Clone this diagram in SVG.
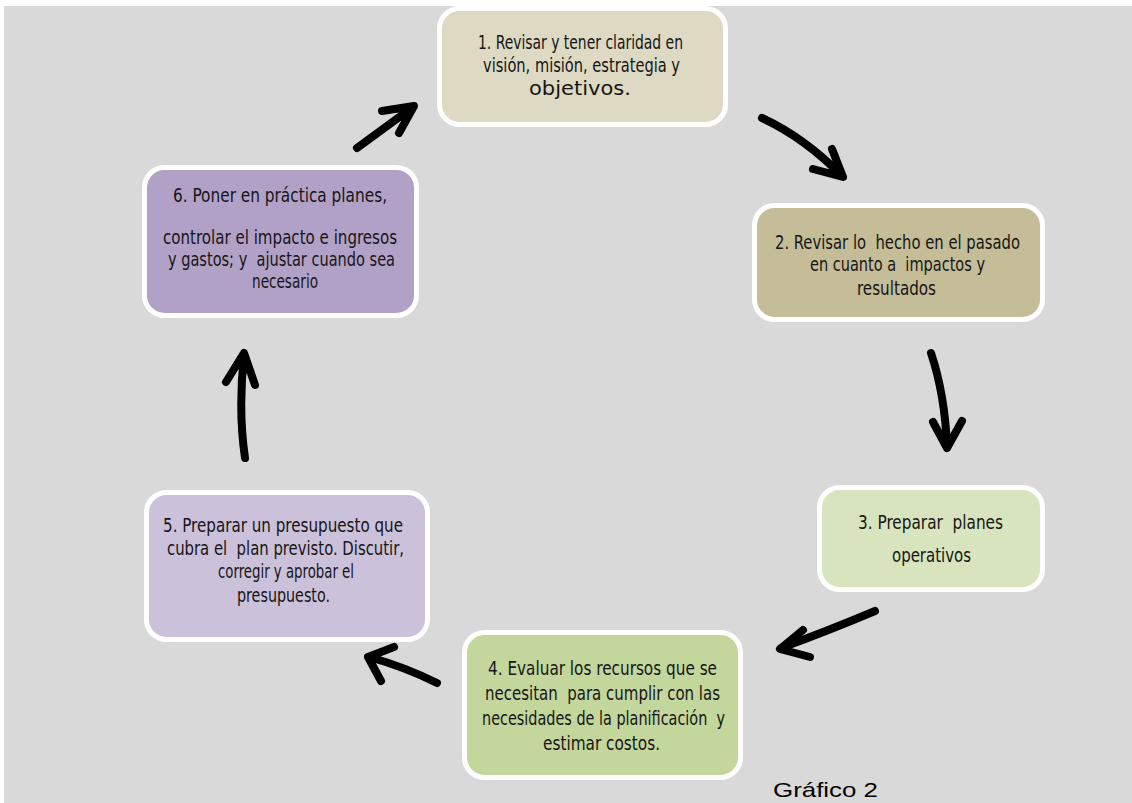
<svg xmlns="http://www.w3.org/2000/svg" width="1132" height="803" viewBox="0 0 1132 803">
<style>
.box{stroke:#ffffff;stroke-width:5}
.t{font-family:"DejaVu Sans Condensed","DejaVu Sans",sans-serif;font-size:20px;fill:#161616}
.arr{fill:none;stroke:#000000;stroke-width:8;stroke-linecap:round;stroke-linejoin:round}
.cap{font-family:"Liberation Sans",Arial,sans-serif;font-size:21px;fill:#000000}
</style>
<rect x="0" y="0" width="1132" height="803" fill="#ffffff"/>
<rect x="4" y="6" width="1128" height="797" fill="#d9d9d9"/>
<g id="connectors">
<path class="arr" d="M357,148 L413,107 M382,111 L414,106 L399,133"/>
<path class="arr" d="M762,118 Q805,138 842,176 M832,149 L843,177 L813,169"/>
<path class="arr" d="M931,353 Q945,395 947,447 M933,422 L947,448 L962,421"/>
<path class="arr" d="M875,611 Q830,630 781,648 M803,630 L780,649 L810,657"/>
<path class="arr" d="M437,683 Q405,667 369,657 M394,647 L368,657 L381,681"/>
<path class="arr" d="M245,458 Q238,410 244,355 M226,382 L244,353 L255,385"/>
</g>
<g id="node1">
<rect class="box" x="439.5" y="8.5" width="286" height="116" rx="20" fill="#ddd9c3"/>
<text class="t" x="478" y="49" textLength="205" lengthAdjust="spacingAndGlyphs">1. Revisar y tener claridad en</text>
<text class="t" x="483" y="72" textLength="197" lengthAdjust="spacingAndGlyphs">visión, misión, estrategia y</text>
<text class="t" x="529" y="95" textLength="102" lengthAdjust="spacingAndGlyphs">objetivos.</text>
</g>
<g id="node2">
<rect class="box" x="754.5" y="205.5" width="288" height="114" rx="20" fill="#c4bd97"/>
<text class="t" x="775" y="249" textLength="245" lengthAdjust="spacingAndGlyphs" xml:space="preserve">2. Revisar lo  hecho en el pasado</text>
<text class="t" x="810" y="271" textLength="175" lengthAdjust="spacingAndGlyphs" xml:space="preserve">en cuanto a  impactos y</text>
<text class="t" x="857" y="295" textLength="79" lengthAdjust="spacingAndGlyphs">resultados</text>
</g>
<g id="node3">
<rect class="box" x="819.5" y="487.5" width="223" height="102" rx="20" fill="#d7e4bd"/>
<text class="t" x="858" y="529" textLength="145" lengthAdjust="spacingAndGlyphs" xml:space="preserve">3. Preparar  planes</text>
<text class="t" x="892" y="562" textLength="79" lengthAdjust="spacingAndGlyphs">operativos</text>
</g>
<g id="node4">
<rect class="box" x="464.5" y="632.5" width="276" height="145" rx="20" fill="#c3d69b"/>
<text class="t" x="488" y="675" textLength="229" lengthAdjust="spacingAndGlyphs">4. Evaluar los recursos que se</text>
<text class="t" x="485" y="700" textLength="235" lengthAdjust="spacingAndGlyphs" xml:space="preserve">necesitan  para cumplir con las</text>
<text class="t" x="482" y="725" textLength="243" lengthAdjust="spacingAndGlyphs" xml:space="preserve">necesidades de la planificación  y</text>
<text class="t" x="543" y="750" textLength="117" lengthAdjust="spacingAndGlyphs">estimar costos.</text>
</g>
<g id="node5">
<rect class="box" x="146.5" y="492.5" width="281" height="147" rx="20" fill="#ccc1da"/>
<text class="t" x="163" y="532" textLength="240" lengthAdjust="spacingAndGlyphs">5. Preparar un presupuesto que</text>
<text class="t" x="167" y="555" textLength="237" lengthAdjust="spacingAndGlyphs" xml:space="preserve">cubra el  plan previsto. Discutir,</text>
<text class="t" x="218" y="578" textLength="136" lengthAdjust="spacingAndGlyphs">corregir y aprobar el</text>
<text class="t" x="237" y="602" textLength="93" lengthAdjust="spacingAndGlyphs">presupuesto.</text>
</g>
<g id="node6">
<rect class="box" x="144.5" y="167.5" width="272" height="148" rx="20" fill="#b2a1c7"/>
<text class="t" x="173" y="202" textLength="214" lengthAdjust="spacingAndGlyphs">6. Poner en práctica planes,</text>
<text class="t" x="163" y="244" textLength="234" lengthAdjust="spacingAndGlyphs">controlar el impacto e ingresos</text>
<text class="t" x="168" y="266" textLength="227" lengthAdjust="spacingAndGlyphs" xml:space="preserve">y gastos; y  ajustar cuando sea</text>
<text class="t" x="252" y="288" textLength="66" lengthAdjust="spacingAndGlyphs">necesario</text>
</g>
<g id="caption">
<text class="cap" x="773" y="797" textLength="105" lengthAdjust="spacingAndGlyphs">Gráfico 2</text>
</g>
</svg>
